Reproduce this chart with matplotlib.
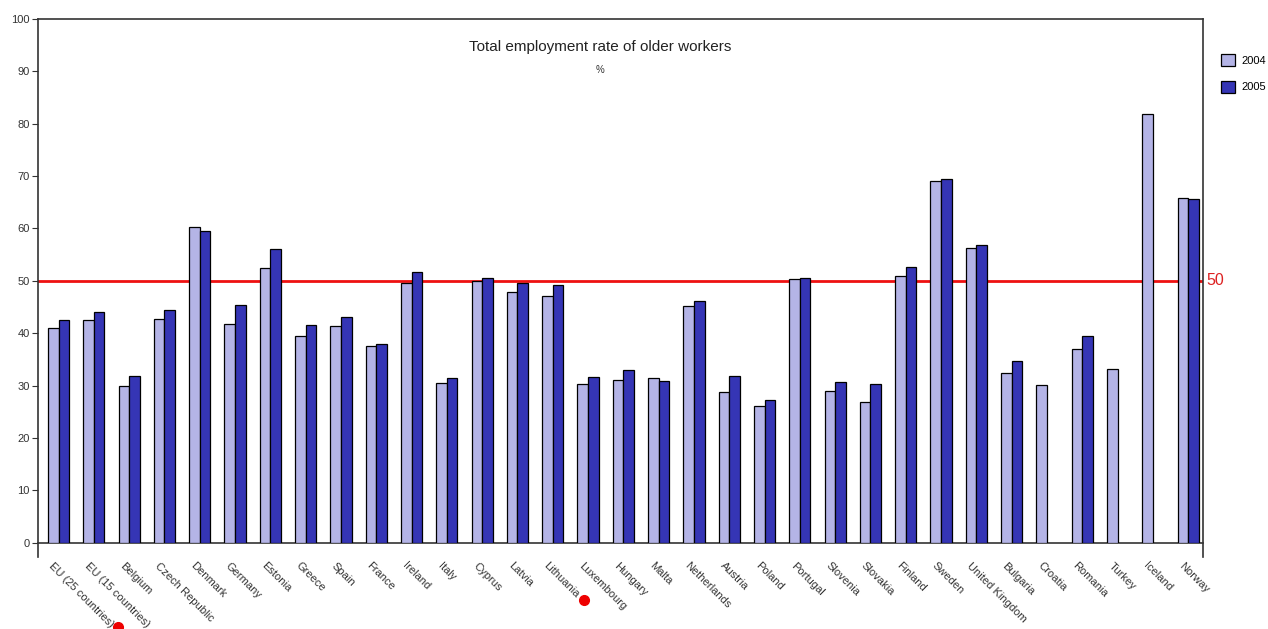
import numpy as np
import matplotlib.pyplot as plt
import matplotlib.transforms as mtransforms
from matplotlib.lines import Line2D

plt.rcParams["font.family"] = ["Liberation Sans", "DejaVu Sans"]

# Employment rate of older workers (55-64), %
paises = ["EU (25 countries)", "EU (15 countries)", "Belgium", "Czech Republic",
          "Denmark", "Germany", "Estonia", "Greece", "Spain", "France", "Ireland",
          "Italy", "Cyprus", "Latvia", "Lithuania", "Luxembourg", "Hungary", "Malta",
          "Netherlands", "Austria", "Poland", "Portugal", "Slovenia", "Slovakia",
          "Finland", "Sweden", "United Kingdom", "Bulgaria", "Croatia", "Romania",
          "Turkey", "Iceland", "Norway"]
taxa_2004 = [41.0, 42.5, 30.0, 42.7, 60.3, 41.8, 52.4, 39.4, 41.3, 37.6, 49.5,
             30.5, 49.9, 47.9, 47.1, 30.4, 31.1, 31.5, 45.2, 28.8, 26.2, 50.3,
             29.0, 26.8, 50.9, 69.1, 56.2, 32.5, 30.1, 36.9, 33.1, 81.8, 65.8]
taxa_2005 = [42.5, 44.1, 31.8, 44.5, 59.5, 45.4, 56.1, 41.6, 43.1, 37.9, 51.6,
             31.4, 50.6, 49.5, 49.2, 31.7, 33.0, 30.8, 46.1, 31.8, 27.2, 50.5,
             30.7, 30.3, 52.7, 69.4, 56.9, 34.7, np.nan, 39.4, np.nan, np.nan, 65.6]
meta = 50

fig = plt.figure(figsize=(12.68, 6.29), dpi=100)
ax = fig.add_axes([0.030, 0.137, 0.9187, 0.833])

x = np.arange(len(paises))
larg = 0.3
ax.bar(x - larg / 2, taxa_2004, larg, color="#b4b4e6", edgecolor="black",
       linewidth=0.9, label="2004", zorder=3)
ax.bar(x + larg / 2, taxa_2005, larg, color="#3535b5", edgecolor="black",
       linewidth=0.9, label="2005", zorder=3)

# linha de referência (50%)
ax.axhline(meta, color="#ee1111", linewidth=2, zorder=2)
ax.text(1.003, meta, str(meta), transform=ax.get_yaxis_transform(),
        color="#dd2222", fontsize=11.5, va="center", ha="left")

ax.set_xlim(-0.58, len(paises) - 0.58)
ax.set_ylim(0, 100)
ax.set_yticks(range(0, 101, 10))
ax.tick_params(axis="y", labelsize=8, labelcolor="#333333", length=4,
               color="#333333", pad=2)
ax.set_xticks([])

# rótulos dos países inclinados, começando logo abaixo do eixo
desloc = mtransforms.ScaledTranslation(-4 / 100, -18 / 100, fig.dpi_scale_trans)
trans_rot = ax.get_xaxis_transform() + desloc
for xi, nome in zip(x, paises):
    ax.text(xi, 0, nome, transform=trans_rot, rotation=-45, ha="left",
            va="top", rotation_mode="anchor", fontsize=8, color="#333333",
            clip_on=False)

for lado in ["left", "right", "top", "bottom"]:
    ax.spines[lado].set_color("#333333")
    ax.spines[lado].set_linewidth(1.2)
ax.spines["left"].set_bounds(-2.7, 100)
ax.spines["right"].set_bounds(-2.7, 100)

fig.text(0.473, 0.925, "Total employment rate of older workers",
         ha="center", va="center", fontsize=11, color="#222222")
fig.text(0.473, 0.889, "%", ha="center", va="center", fontsize=7,
         color="#333333")

fig.legend(loc="upper left", bbox_to_anchor=(0.955, 0.93), frameon=False,
           fontsize=8, handlelength=1.25, handleheight=1.25, labelspacing=1.35,
           handletextpad=0.6)

# marcadores vermelhos junto aos rótulos
for px, py in [(118, 627), (584, 600)]:
    fig.add_artist(Line2D([px / 1268], [1 - py / 629], marker="o",
                          markersize=7, color="#ee0000", linestyle="none",
                          transform=fig.transFigure))

plt.savefig("out.png", dpi=100)
plt.close()
